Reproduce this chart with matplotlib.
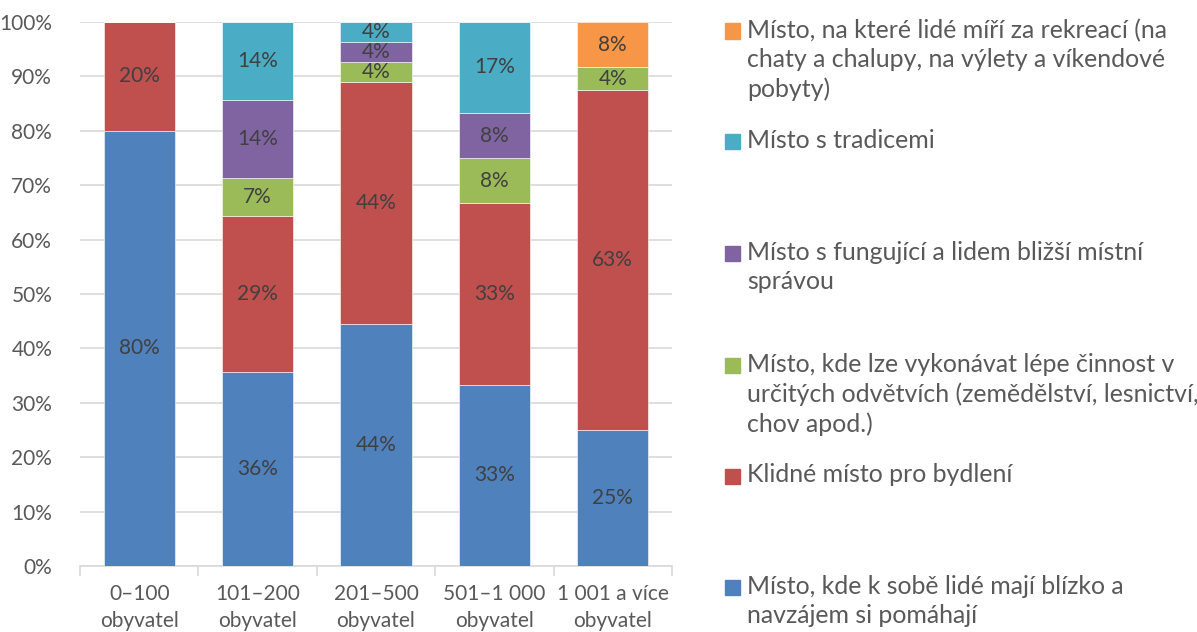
import numpy as np
import matplotlib.pyplot as plt
from matplotlib.patches import Rectangle

plt.rcParams['font.family'] = ['Lato', 'DejaVu Sans']

categories = ["0–100\nobyvatel", "101–200\nobyvatel", "201–500\nobyvatel",
              "501–1 000\nobyvatel", "1 001 a více\nobyvatel"]

series_names = [
    "Místo, kde k sobě lidé mají blízko a\nnavzájem si pomáhají",
    "Klidné místo pro bydlení",
    "Místo, kde lze vykonávat lépe činnost v\nurčitých odvětvích (zemědělství, lesnictví,\nchov apod.)",
    "Místo s fungující a lidem bližší místní\nsprávou",
    "Místo s tradicemi",
    "Místo, na které lidé míří za rekreací (na\nchaty a chalupy, na výlety a víkendové\npobyty)",
]

blizko = [80.0, 35.7, 44.4, 33.3, 25.0]
klidne = [20.0, 28.6, 44.4, 33.3, 62.5]
odvetvi = [0.0, 7.1, 3.7, 8.3, 4.2]
sprava = [0.0, 14.3, 3.7, 8.3, 0.0]
tradice = [0.0, 14.3, 3.7, 16.7, 0.0]
rekreace = [0.0, 0.0, 0.0, 0.0, 8.3]

series = [blizko, klidne, odvetvi, sprava, tradice, rekreace]
colors = ["#4F81BD", "#C0504D", "#9BBB59", "#8064A2", "#4BACC6", "#F79646"]

text_col = "#595959"

# 100 % stacked: scale each column so it sums to exactly 100
data = np.array(series)
data = data / data.sum(axis=0) * 100

fig = plt.figure(figsize=(11.97, 6.32), dpi=100)
ax = fig.add_axes([80 / 1197, 66 / 632, 592 / 1197, 544 / 632])

x = np.arange(len(categories))
bottom = np.zeros(len(categories))
for vals, col in zip(data, colors):
    ax.bar(x, vals, 0.6, bottom=bottom, color=col, edgecolor="white",
           linewidth=0.4, zorder=3)
    for xi, v, b in zip(x, vals, bottom):
        if v > 0:
            ax.text(xi, b + v / 2, f"{int(np.floor(v + 0.5))}%", ha="center",
                    va="center", fontsize=15, color="#404040", zorder=4)
    bottom += vals

ax.set_xlim(-0.5, len(categories) - 0.5)
ax.set_ylim(0, 100)
ax.set_yticks(np.arange(0, 101, 10))
ax.set_yticklabels([f"{t}%" for t in range(0, 101, 10)])
ax.yaxis.grid(True, color="#D9D9D9", linewidth=1.2, zorder=0)
ax.set_axisbelow(True)

ax.set_xticks(x)
ax.set_xticklabels(categories, linespacing=1.45)
ax.set_xticks(np.arange(-0.5, len(categories), 1), minor=True)
ax.tick_params(axis="x", which="major", length=0, pad=13, labelsize=15,
               labelcolor=text_col)
ax.tick_params(axis="x", which="minor", length=7, color="#D9D9D9", width=1.2)
ax.tick_params(axis="y", length=0, pad=20, labelsize=15, labelcolor=text_col)

for s in ["top", "right", "left"]:
    ax.spines[s].set_visible(False)
ax.spines["bottom"].set_color("#D9D9D9")
ax.spines["bottom"].set_linewidth(1.2)

# legend drawn by hand, reverse order, spread over the height
legend_y = [587, 476, 365, 253, 142, 31]
for name, col, yy in zip(series_names, colors, legend_y):
    fy = 1 - yy / 632
    fig.patches.append(Rectangle((725 / 1197, fy - 7.5 / 632), 15 / 1197, 15 / 632,
                                 transform=fig.transFigure, color=col))
    fig.text(747 / 1197, fy + 12.5 / 632, name, ha="left", va="top",
             fontsize=17.9, color=text_col, linespacing=1.33)

plt.savefig("out.png", dpi=100)
